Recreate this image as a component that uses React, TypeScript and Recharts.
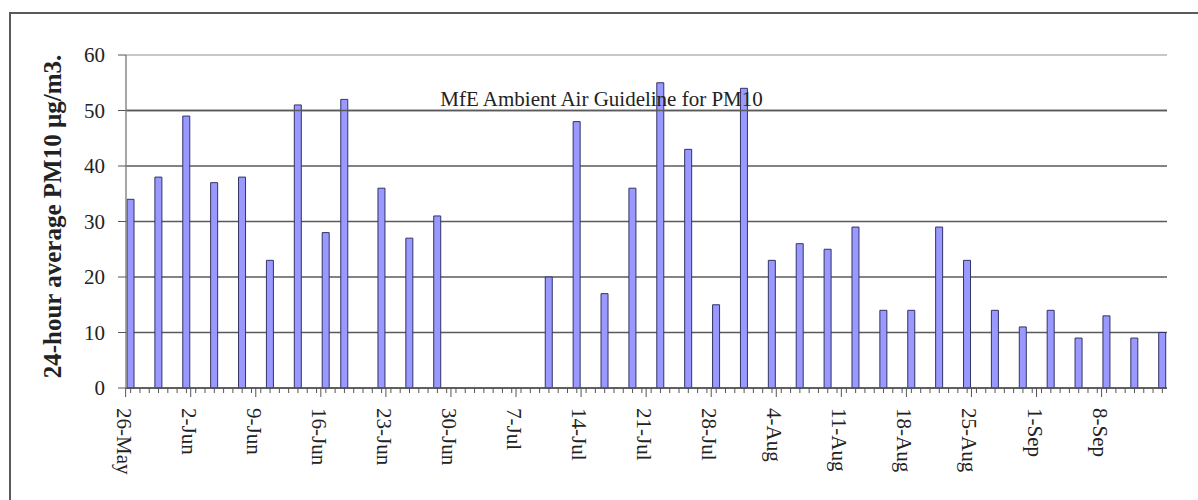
import React from "react";
import {
  BarChart,
  Bar,
  XAxis,
  YAxis,
  CartesianGrid,
  ReferenceLine,
} from "recharts";

// sampling days (24-hour average PM10, µg/m3)
const sampleDates = [
  "26-May", "29-May", "1-Jun", "4-Jun", "7-Jun", "10-Jun", "13-Jun", "16-Jun",
  "18-Jun", "22-Jun", "25-Jun", "28-Jun", "10-Jul", "13-Jul", "16-Jul", "19-Jul",
  "22-Jul", "25-Jul", "28-Jul", "31-Jul", "3-Aug", "6-Aug", "9-Aug", "12-Aug",
  "15-Aug", "18-Aug", "21-Aug", "24-Aug", "27-Aug", "30-Aug", "2-Sep", "5-Sep",
  "8-Sep", "11-Sep", "14-Sep",
];
const pm10Values = [
  34, 38, 49, 37, 38, 23, 51, 28,
  52, 36, 27, 31, 20, 48, 17, 36,
  55, 43, 15, 54, 23, 26, 25, 29,
  14, 14, 29, 23, 14, 11, 14, 9,
  13, 9, 10,
];
const tickLabels = [
  "26-May", "2-Jun", "9-Jun", "16-Jun", "23-Jun", "30-Jun", "7-Jul", "14-Jul",
  "21-Jul", "28-Jul", "4-Aug", "11-Aug", "18-Aug", "25-Aug", "1-Sep", "8-Sep",
];
const yTicks = [0, 10, 20, 30, 40, 50, 60];
const guideline = 50;

const MONTHS = ["Jan", "Feb", "Mar", "Apr", "May", "Jun", "Jul", "Aug", "Sep", "Oct", "Nov", "Dec"];

// one category per calendar day, 26 May to 14 Sep
const calendar = (() => {
  const out: string[] = [];
  const d = new Date(Date.UTC(2007, 4, 26));
  const end = Date.UTC(2007, 8, 14);
  while (d.getTime() <= end) {
    out.push(`${d.getUTCDate()}-${MONTHS[d.getUTCMonth()]}`);
    d.setUTCDate(d.getUTCDate() + 1);
  }
  return out;
})();

const chartData = calendar.map((date) => {
  const i = sampleDates.indexOf(date);
  return { date, pm10: i >= 0 ? pm10Values[i] : null };
});

const FONT = "'Liberation Serif', 'Times New Roman', serif";

const DateTick = (props: any) => {
  const { x, y, payload } = props;
  if (!tickLabels.includes(payload.value)) return <g />;
  return (
    <g>
      <line x1={x - 5} x2={x - 5} y1={y - 7} y2={y + 2} stroke="#555" strokeWidth={1} />
      <text
        transform={`translate(${x - 7}, ${y + 13}) rotate(90)`}
        textAnchor="start"
        dominantBaseline="central"
        fontFamily={FONT}
        fontSize={21}
        fill="#222"
      >
        {payload.value}
      </text>
    </g>
  );
};

const YTitle = (props: any) => {
  const vb = props.viewBox;
  const cy = vb.y + vb.height / 2 - 5;
  return (
    <text
      transform={`translate(${vb.x + 52}, ${cy}) rotate(-90)`}
      textAnchor="middle"
      dominantBaseline="central"
      fontFamily={FONT}
      fontWeight="bold"
      fontSize={25}
      fill="#222"
    >
      24-hour average PM10 µg/m3.
    </text>
  );
};

const GridLine = (p: any) => {
  const top = p.offset ? p.offset.top : p.y;
  const isTop = Math.abs(p.y1 - top) < 1;
  return (
    <line
      key={p.key}
      x1={p.x1}
      x2={p.x2}
      y1={p.y1}
      y2={p.y2}
      stroke={isTop ? "#c8c8c8" : "#5a5a5a"}
      strokeWidth={isTop ? 2 : 1.5}
    />
  );
};

export default function App() {
  return (
    <div
      style={{
        position: "absolute",
        left: 0,
        top: 0,
        width: 1198,
        height: 500,
        overflow: "hidden",
        background: "#fff",
      }}
    >
      <div
        style={{
          position: "absolute",
          left: 9,
          top: 12,
          width: 1300,
          height: 600,
          borderLeft: "2px solid #5a5a5a",
          borderTop: "2px solid #5a5a5a",
        }}
      />
      <div style={{ position: "absolute", left: 0, top: 0 }}>
        <BarChart
          width={1198}
          height={500}
          data={chartData}
          margin={{ top: 55, right: 31, bottom: 12, left: 0 }}
        >
          <CartesianGrid vertical={false} horizontal={GridLine} />
          <XAxis
            dataKey="date"
            interval={0}
            height={100}
            tickSize={5}
            tickMargin={2}
            tick={DateTick}
            tickLine={{ stroke: "#555" }}
            axisLine={{ stroke: "#555", strokeWidth: 1.5 }}
          />
          <YAxis
            domain={[0, 60]}
            ticks={yTicks}
            width={126}
            tickSize={8}
            tickMargin={13}
            tick={{ fontFamily: FONT, fontSize: 21, fill: "#222" }}
            tickLine={{ stroke: "#555" }}
            axisLine={{ stroke: "#8a8a8a", strokeWidth: 1.5 }}
            label={<YTitle />}
          />
          <YAxis
            yAxisId="frame"
            orientation="right"
            domain={[0, 60]}
            width={0}
            tick={false}
            tickLine={false}
            axisLine={{ stroke: "#c8c8c8", strokeWidth: 2 }}
          />
          <ReferenceLine
            y={guideline}
            stroke="#5a5a5a"
            strokeWidth={1.5}
            label={{
              value: "MfE Ambient Air Guideline for PM10",
              position: "top",
              dx: -45,
              fontFamily: FONT,
              fontSize: 21,
              fill: "#222",
            }}
          />
          <Bar
            dataKey="pm10"
            barSize={7}
            fill="#9999ff"
            stroke="#333366"
            strokeWidth={1}
            isAnimationActive={false}
          />
        </BarChart>
      </div>
    </div>
  );
}
